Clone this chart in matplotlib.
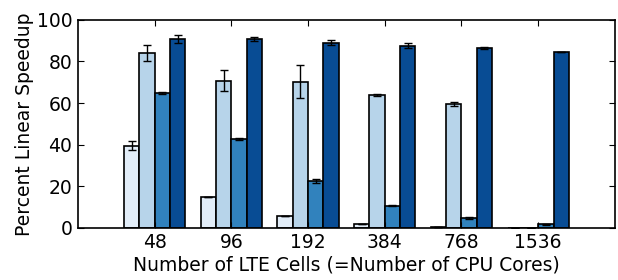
import numpy as np
import matplotlib
matplotlib.use("Agg")
import matplotlib.pyplot as plt

cells = ["48", "96", "192", "384", "768", "1536"]

s1 = [39.6, 14.8, 5.8, 2.1, 0.3, 0.2]
s1_err = [2.0, 0.0, 0.0, 0.0, 0.0, 0.0]
s2 = [84.0, 70.8, 70.3, 63.9, 59.5, 0.2]
s2_err = [3.7, 4.9, 7.8, 0.3, 1.0, 0.0]
s3 = [64.8, 42.8, 22.6, 10.7, 4.7, 1.8]
s3_err = [0.3, 0.3, 1.0, 0.2, 0.4, 0.3]
s4 = [90.7, 91.0, 89.1, 87.5, 86.5, 84.6]
s4_err = [2.0, 1.0, 1.0, 1.2, 0.3, 0.2]

colors = ["#e2edf8", "#b7d4ea", "#3182bd", "#084c94"]

fig = plt.figure(figsize=(6.18, 2.8), dpi=100)
ax = fig.add_axes([0.126, 0.186, 0.869, 0.743])

x = np.arange(len(cells))
w = 0.2
series = [(s1, s1_err), (s2, s2_err), (s3, s3_err), (s4, s4_err)]
for i, (vals, errs) in enumerate(series):
    ax.bar(x + (i - 1.5) * w, vals, w, yerr=errs, color=colors[i],
           edgecolor="black", linewidth=1.2,
           error_kw=dict(ecolor="black", elinewidth=1, capsize=3, capthick=1))

ax.set_xlim(-1, 6)
ax.set_ylim(0, 100)
ax.set_xticks(x)
ax.set_xticklabels(cells)
ax.set_yticks([0, 20, 40, 60, 80, 100])
ax.tick_params(direction="in", top=True, right=True, labelsize=13.5, length=4, pad=4)
ax.set_xlabel("Number of LTE Cells (=Number of CPU Cores)", fontsize=13.5, labelpad=2)
ax.set_ylabel("Percent Linear Speedup", fontsize=13.5, labelpad=2)
for sp in ax.spines.values():
    sp.set_linewidth(1.2)

fig.savefig("out.png", dpi=100)
